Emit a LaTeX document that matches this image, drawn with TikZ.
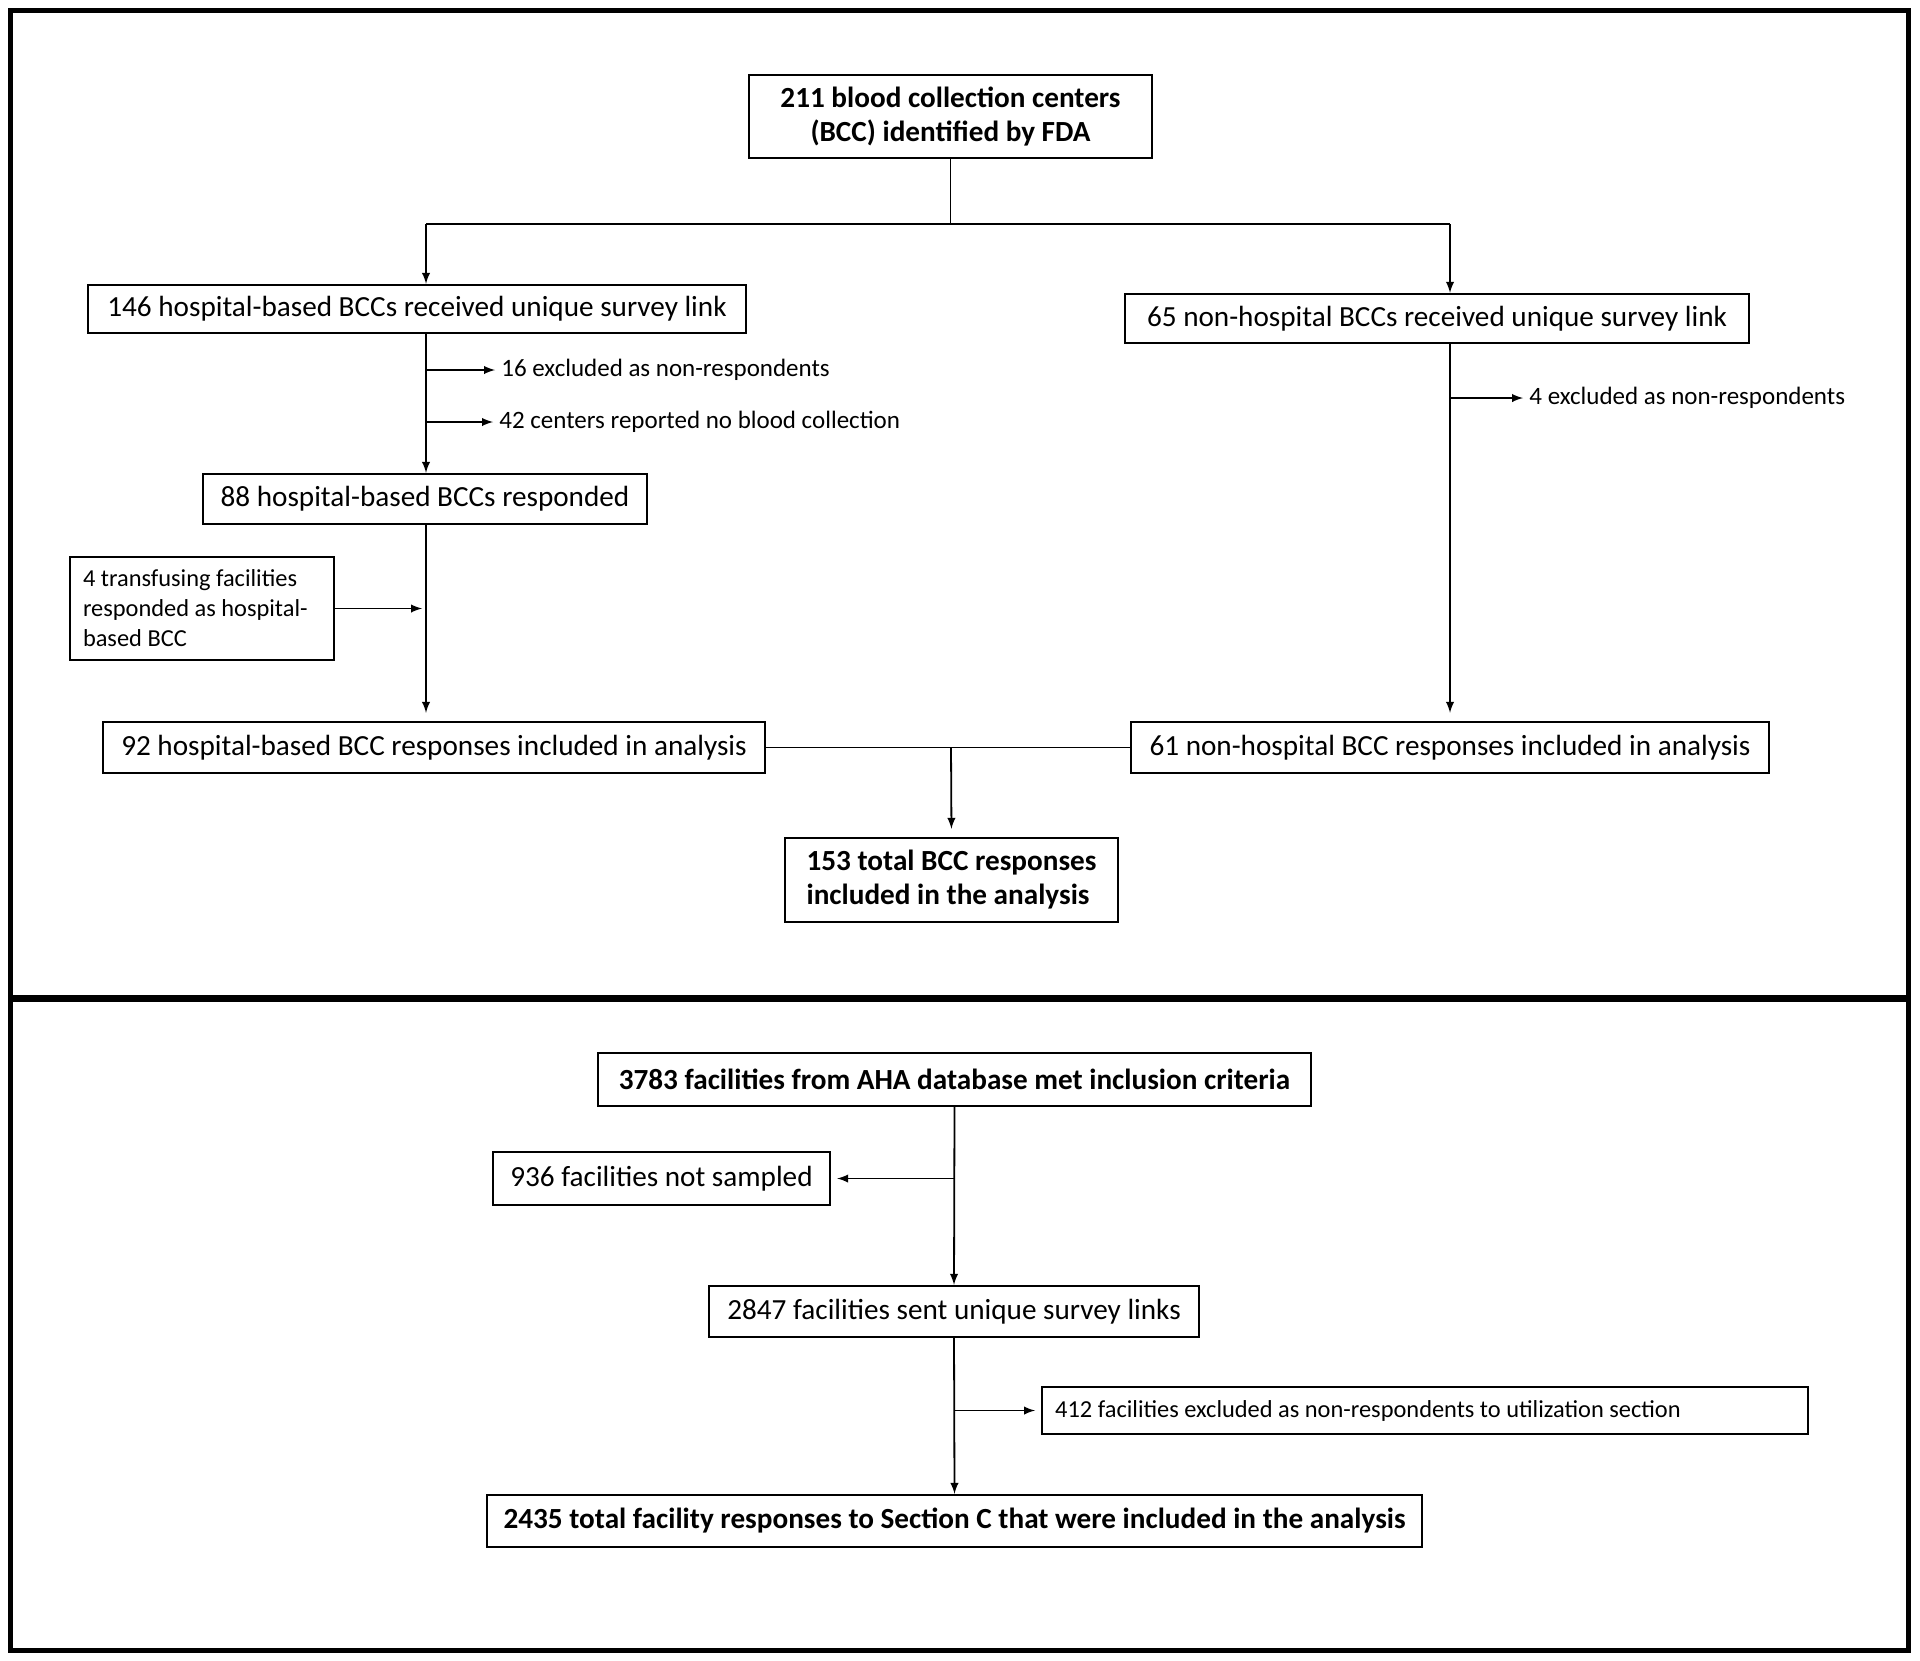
\documentclass[tikz,border=0pt]{standalone}
\usepackage{fontspec}
\setmainfont{Carlito}
\usetikzlibrary{arrows}
\tikzset{
  box/.style={draw, line width=1.2pt, inner sep=0pt, font=\fontsize{14.6}{18}\selectfont},
  boldbox/.style={box, font=\fontsize{14.6}{17}\selectfont\bfseries},
  note/.style={inner sep=3pt, anchor=west, font=\fontsize{12.5}{15}\selectfont},
  link/.style={line width=0.9pt},
  >=latex
}

\begin{document}
\begin{tikzpicture}[x=0.5pt, y=-0.5pt]
      \useasboundingbox (0, 0) rectangle (1920, 1660);
      \draw [line width=2.5pt] (10, 10) rectangle (1908, 1650);
      \draw [line width=3.5pt] (10, 998) -- (1908, 998);

      \node [boldbox, minimum width=201.5pt, minimum height=41.5pt, align=center] (fda) at (950.5, 116.5) {211 blood collection centers\\(BCC) identified by FDA};
      \node [box, minimum width=329pt, minimum height=24pt] (hosp) at (417, 309) {146 hospital-based BCCs received unique survey link};
      \node [box, minimum width=312pt, minimum height=24.5pt] (nonhosp) at (1437, 318.5) {65 non-hospital BCCs received unique survey link};
      \node [note] (excl16) at (495, 370) {16 excluded as non-respondents};
      \node [note] (nocoll) at (493, 422) {42 centers reported no blood collection};
      \node [note] (excl4) at (1523, 398) {4 excluded as non-respondents};
      \node [box, minimum width=222pt, minimum height=25pt] (resp) at (425, 499) {88 hospital-based BCCs responded};
      \node [box, inner xsep=6.5pt, text width=119pt, minimum height=51.5pt, align=flush left, font=\fontsize{12.2}{15}\selectfont] (transf) at (202, 608.5) {4 transfusing facilities\\responded as hospital-\\based BCC};
      \node [box, minimum width=331pt, minimum height=25.5pt] (hincl) at (434, 747.5) {92 hospital-based BCC responses included in analysis};
      \node [box, minimum width=319pt, minimum height=25.5pt] (nincl) at (1450, 747.5) {61 non-hospital BCC responses included in analysis};
      \node [boldbox, minimum width=166.5pt, minimum height=42pt, align=left] (total) at (951.5, 880) {153 total BCC responses\\included in the analysis};

      \coordinate (split) at (950.5, 224);
      \coordinate (lsplit) at (426, 224);
      \coordinate (rsplit) at (1450, 224);
      \coordinate (merge) at (951, 747.5);

      \draw [link] (fda.south) -- (split);
      \draw [link] (lsplit) -- (rsplit);
      \draw [link, ->] (lsplit) -- (lsplit |- hosp.north);
      \draw [link, ->] (rsplit) -- (rsplit |- nonhosp.north);
      \draw [link, ->] (hosp.south -| lsplit) -- (resp.north -| lsplit);
      \draw [link, ->] (excl16.west -| lsplit) -- (excl16.west);
      \draw [link, ->] (nocoll.west -| lsplit) -- (nocoll.west);
      \draw [link, ->, shorten >=4pt] (resp.south -| lsplit) -- (hincl.north -| lsplit);
      \draw [link, ->, shorten >=2pt] (transf.east) -- (transf.east -| lsplit);
      \draw [link, ->, shorten >=4pt] (nonhosp.south -| rsplit) -- (nincl.north -| rsplit);
      \draw [link, ->] (excl4.west -| rsplit) -- (excl4.west);
      \draw [link] (hincl.east) -- (nincl.west);
      \draw [link, ->, shorten >=4pt] (merge) -- (total.north);

      \node [boldbox, minimum width=356.5pt, minimum height=26.5pt] (aha) at (954.5, 1079.5) {3783 facilities from AHA database met inclusion criteria};
      \node [box, minimum width=168.5pt, minimum height=26.5pt] (notsamp) at (661.5, 1178.5) {936 facilities not sampled};
      \node [box, minimum width=245pt, minimum height=25.5pt] (sent) at (954, 1311.5) {2847 facilities sent unique survey links};
      \node [box, anchor=west, inner xsep=6.5pt, text width=370pt, minimum height=23.5pt, align=flush left, font=\fontsize{12.2}{15}\selectfont] (nonresp) at (1041, 1410.5) {412 facilities excluded as non-respondents to utilization section};
      \node [boldbox, minimum width=467.5pt, minimum height=26pt] (final) at (954.5, 1521) {2435 total facility responses to Section C that were included in the analysis};

      \draw [link, ->] (aha.south) -- (sent.north);
      \draw [link, ->, shorten >=3pt] (aha.south |- notsamp.east) -- (notsamp.east);
      \draw [link, ->] (sent.south) -- (final.north);
      \draw [link, ->, shorten >=3pt] (sent.south |- nonresp.west) -- (nonresp.west);
    \end{tikzpicture}
\end{document}
